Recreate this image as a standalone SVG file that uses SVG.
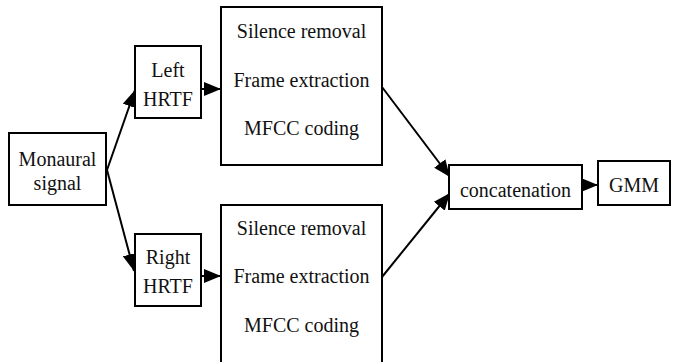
<svg xmlns="http://www.w3.org/2000/svg" width="679" height="362" viewBox="0 0 679 362">
<style>
.box{fill:#fff;stroke:#000;stroke-width:2}
.t{font-family:'Liberation Serif','Times New Roman',Tinos,'DejaVu Serif',serif;font-size:20px;fill:#111;text-anchor:middle}
.c{stroke:#000;stroke-width:2;fill:none}
</style>
<defs>
<marker id="ah" markerUnits="userSpaceOnUse" markerWidth="18" markerHeight="14" refX="17" refY="7" orient="auto">
<path d="M0,0 L17,7 L0,14 z" fill="#000"/>
</marker>
</defs>
<rect width="679" height="362" fill="#fff"/>
<g id="connectors">
<line class="c" x1="107" y1="170" x2="135" y2="90" marker-end="url(#ah)"/>
<line class="c" x1="107" y1="170" x2="134" y2="271" marker-end="url(#ah)"/>
<line class="c" x1="201" y1="89" x2="221" y2="89" marker-end="url(#ah)"/>
<line class="c" x1="201" y1="276" x2="221" y2="276" marker-end="url(#ah)"/>
<line class="c" x1="382" y1="87" x2="450" y2="177" marker-end="url(#ah)"/>
<line class="c" x1="382" y1="277" x2="450" y2="193" marker-end="url(#ah)"/>
<line class="c" x1="582" y1="185" x2="598" y2="185" marker-end="url(#ah)"/>
</g>
<g id="monaural">
<rect class="box" x="9" y="133" width="97" height="72"/>
<text class="t" x="57.5" y="166" font-family="Liberation Serif, serif">Monaural</text>
<text class="t" x="57.5" y="190" font-family="Liberation Serif, serif">signal</text>
</g>
<g id="left-hrtf">
<rect class="box" x="135" y="46" width="66" height="72"/>
<text class="t" x="168" y="77">Left</text>
<text class="t" x="168" y="106">HRTF</text>
</g>
<g id="right-hrtf">
<rect class="box" x="135" y="234" width="66" height="72"/>
<text class="t" x="168" y="264">Right</text>
<text class="t" x="168" y="293">HRTF</text>
</g>
<g id="top-process">
<rect class="box" x="221" y="7" width="161" height="158"/>
<text class="t" x="301.5" y="38">Silence removal</text>
<text class="t" x="301.5" y="87">Frame extraction</text>
<text class="t" x="301.5" y="135">MFCC coding</text>
</g>
<g id="bottom-process">
<rect class="box" x="221" y="205" width="161" height="170"/>
<text class="t" x="301.5" y="235">Silence removal</text>
<text class="t" x="301.5" y="283">Frame extraction</text>
<text class="t" x="301.5" y="332">MFCC coding</text>
</g>
<g id="concatenation">
<rect class="box" x="449" y="165" width="133" height="44"/>
<text class="t" x="515.5" y="197">concatenation</text>
</g>
<g id="gmm">
<rect class="box" x="598" y="161" width="72" height="44"/>
<text class="t" x="634" y="192">GMM</text>
</g>
</svg>
